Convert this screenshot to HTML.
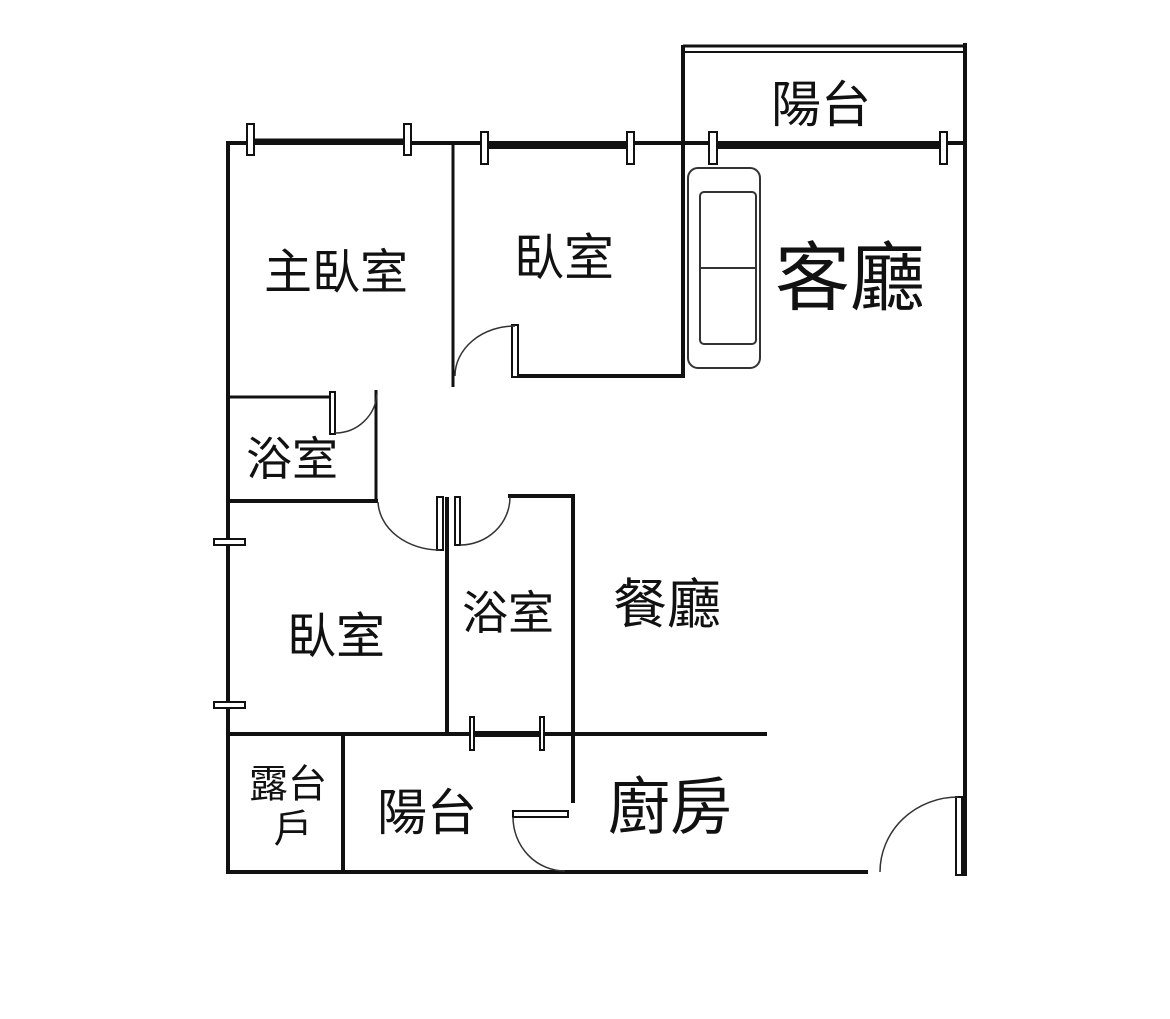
<!DOCTYPE html>
<html><head><meta charset="utf-8"><style>
html,body{margin:0;padding:0;background:#fff;}
svg{display:block}
text{font-family:"Liberation Sans","Noto Sans CJK TC",sans-serif;fill:#111;text-anchor:middle;dominant-baseline:central}
</style></head><body>
<svg width="1170" height="1019" viewBox="0 0 1170 1019" xmlns="http://www.w3.org/2000/svg">
<g stroke="#111" stroke-width="4" fill="none">
<line x1="228" y1="141" x2="228" y2="874"/>
<line x1="226" y1="143" x2="965" y2="143"/>
<line x1="965" y1="43" x2="965" y2="876"/>
<line x1="683" y1="45" x2="683" y2="377"/>
<line x1="683" y1="46" x2="967" y2="46" stroke-width="3"/>
<line x1="683" y1="52" x2="965" y2="52" stroke-width="2"/>
<line x1="250" y1="141" x2="407" y2="141" stroke-width="5"/>
<line x1="485" y1="146" x2="630" y2="146" stroke-width="6"/>
<line x1="713" y1="146" x2="943" y2="146" stroke-width="6"/>
<line x1="453" y1="143" x2="453" y2="387" stroke-width="3"/>
<line x1="518" y1="376" x2="685" y2="376"/>
<line x1="228" y1="397" x2="332" y2="397" stroke-width="3"/>
<line x1="376" y1="390" x2="376" y2="502" stroke-width="3"/>
<line x1="228" y1="501" x2="378" y2="501"/>
<line x1="447" y1="497" x2="447" y2="732"/>
<line x1="508" y1="496" x2="575" y2="496"/>
<line x1="573" y1="496" x2="573" y2="803"/>
<line x1="228" y1="734" x2="767" y2="734"/>
<line x1="472" y1="734" x2="541" y2="734" stroke-width="6"/>
<line x1="343" y1="734" x2="343" y2="872"/>
<line x1="226" y1="872" x2="868" y2="872"/>
</g>
<g fill="#fff" stroke="#111" stroke-width="2">
<rect x="247" y="124" width="7" height="31"/>
<rect x="404" y="124" width="7" height="31"/>
<rect x="481" y="132" width="7" height="32"/>
<rect x="627" y="132" width="7" height="32"/>
<rect x="709" y="132" width="8" height="32"/>
<rect x="940" y="132" width="7" height="32"/>
<rect x="214" y="539" width="31" height="6"/>
<rect x="214" y="702" width="31" height="6"/>
<rect x="470" y="717" width="4" height="33"/>
<rect x="540" y="717" width="4" height="33"/>
<rect x="512" y="325" width="6" height="52"/>
<rect x="330" y="392" width="5" height="42"/>
<rect x="437" y="497" width="6" height="53"/>
<rect x="455" y="497" width="5" height="48"/>
<rect x="513" y="811" width="55" height="6"/>
<rect x="956" y="797" width="6" height="78"/>
</g>
<g stroke="#333" stroke-width="1.5" fill="none">
<path d="M515 326 A 60 50 0 0 0 455 376"/>
<path d="M335 433 A 42 42 0 0 0 377 393"/>
<path d="M378 502 A 62 50 0 0 0 440 550"/>
<path d="M460 545 A 50 48 0 0 0 510 497"/>
<path d="M513 817 A 52 54 0 0 0 565 871"/>
<path d="M958 797 A 78 75 0 0 0 880 872"/>
</g>
<g stroke="#333" stroke-width="2" fill="#fff">
<rect x="688" y="168" width="72" height="200" rx="10"/>
<rect x="700" y="192" width="56" height="152" rx="4"/>
<line x1="700" y1="268" x2="756" y2="268"/>
</g>
<text x="336" y="273" font-size="48">主臥室</text>
<text x="564" y="258" font-size="50">臥室</text>
<text x="850" y="278" font-size="75">客廳</text>
<text x="821" y="105" font-size="50">陽台</text>
<text x="292" y="459" font-size="46">浴室</text>
<text x="336" y="637" font-size="49">臥室</text>
<text x="508" y="613" font-size="46">浴室</text>
<text x="667" y="605" font-size="54">餐廳</text>
<text x="288" y="785" font-size="39">露台</text>
<text x="293" y="830" font-size="39">戶</text>
<text x="427" y="813" font-size="50">陽台</text>
<text x="670" y="808" font-size="62">廚房</text>
</svg>
</body></html>
